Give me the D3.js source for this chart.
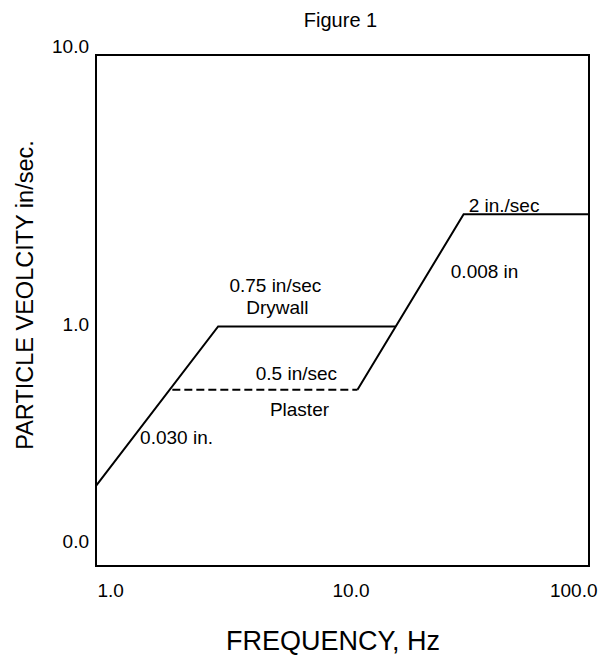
<!DOCTYPE html>
<html>
<head>
<meta charset="utf-8">
<script src="https://cdn.jsdelivr.net/npm/d3@7"></script>
<style>
  body { margin: 0; background: #fff; }
  svg { display: block; }
  text { font-family: Arial, "Liberation Sans", sans-serif; fill: #000; }
</style>
</head>
<body>
<svg id="chart" width="602" height="661"></svg>
<script>
// ---- data ----
const xTickValues = [1, 10, 100];
const xTickLabels = ["1.0", "10.0", "100.0"];
const yTickValues = [0.1, 1, 10];
const yTickLabels = ["0.0", "1.0", "10.0"];

// Drywall limit: 0.030 in. displacement slope, then 0.75 in/sec plateau
const drywallFreq = [1, 3.13, 16.4];
const drywallVel  = [0.206, 0.866, 0.866];
// Plaster plateau (dashed)
const plasterFreq = [2.04, 11.5];
const plasterVel  = [0.49, 0.49];
// 0.008 in displacement slope, then 2 in./sec plateau
const upperFreq = [11.5, 31.0, 100];
const upperVel  = [0.49, 2.38, 2.38];

// annotations (text, frequency, velocity)
const noteText = ["0.75 in/sec", "Drywall", "0.5 in/sec", "Plaster", "0.030 in.", "2 in./sec", "0.008 in"];
const noteFreq = [5.34, 5.44, 6.50, 6.69, 1.51, 32.5, 27.5];
const noteVel  = [1.18, 0.965, 0.535, 0.386, 0.301, 2.42, 1.335];
const noteAnchor = ["middle", "middle", "middle", "middle", "start", "start", "start"];

// ---- layout ----
const svg = d3.select("#chart");
const L = 96, R = 589, T = 55, B = 566;
const FONT = "Arial, 'Liberation Sans', sans-serif";

const x = d3.scaleLog().domain([1, 100]).range([L, R]);
const y = d3.scaleLog().domain([0.1, 10]).range([B, T]);

// frame
svg.append("rect")
  .attr("x", L).attr("y", T)
  .attr("width", R - L).attr("height", B - T)
  .attr("fill", "none").attr("stroke", "#000").attr("stroke-width", 2);

// title
svg.append("text")
  .attr("x", (L + R) / 2 - 2).attr("y", 27)
  .attr("text-anchor", "middle").attr("font-size", 20)
  .text("Figure 1");

// x tick labels
const xAxis = d3.axisBottom(x).tickValues(xTickValues)
  .tickFormat((d, i) => xTickLabels[i]).tickSize(0).tickPadding(0);
const gx = svg.append("g").attr("transform", `translate(0,${B})`).call(xAxis);
gx.select(".domain").remove();
gx.selectAll("text")
  .attr("font-size", 19).attr("dy", 0).attr("y", 31)
  .attr("font-family", FONT)
  .attr("text-anchor", (d, i) => i === 0 ? "start" : (i === xTickValues.length - 1 ? "end" : "middle"))
  .attr("dx", (d, i) => i === 0 ? 1 : 8);

// y tick labels
const yAxis = d3.axisLeft(y).tickValues(yTickValues)
  .tickFormat((d, i) => yTickLabels[i]).tickSize(0).tickPadding(0);
const gy = svg.append("g").attr("transform", `translate(${L},0)`).call(yAxis);
gy.select(".domain").remove();
gy.selectAll("text")
  .attr("font-size", 19).attr("x", -7)
  .attr("font-family", FONT)
  .attr("dy", (d, i) => i === 0 ? -19 : (i === yTickValues.length - 1 ? -3 : 20));

// axis titles
svg.append("text")
  .attr("x", 333).attr("y", 650)
  .attr("text-anchor", "middle").attr("font-size", 27)
  .text("FREQUENCY, Hz");
svg.append("text")
  .attr("transform", `translate(33,295) rotate(-90)`)
  .attr("text-anchor", "middle").attr("font-size", 23.5)
  .text("PARTICLE VEOLCITY in/sec.");

// lines
const line = d3.line().x(d => x(d[0])).y(d => y(d[1]));
const drywall = drywallFreq.map((f, i) => [f, drywallVel[i]]);
const plaster = plasterFreq.map((f, i) => [f, plasterVel[i]]);
const upper = upperFreq.map((f, i) => [f, upperVel[i]]);

svg.append("path").datum(drywall).attr("d", line)
  .attr("fill", "none").attr("stroke", "#000").attr("stroke-width", 2);
svg.append("path").datum(plaster).attr("d", line)
  .attr("fill", "none").attr("stroke", "#000").attr("stroke-width", 2)
  .attr("stroke-dasharray", "8,4");
svg.append("path").datum(upper).attr("d", line)
  .attr("fill", "none").attr("stroke", "#000").attr("stroke-width", 2);

// annotations
svg.selectAll("text.note").data(noteText).enter().append("text")
  .attr("class", "note")
  .attr("x", (d, i) => x(noteFreq[i]))
  .attr("y", (d, i) => y(noteVel[i]))
  .attr("text-anchor", (d, i) => noteAnchor[i])
  .attr("font-size", 19)
  .text(d => d);
</script>
</body>
</html>
